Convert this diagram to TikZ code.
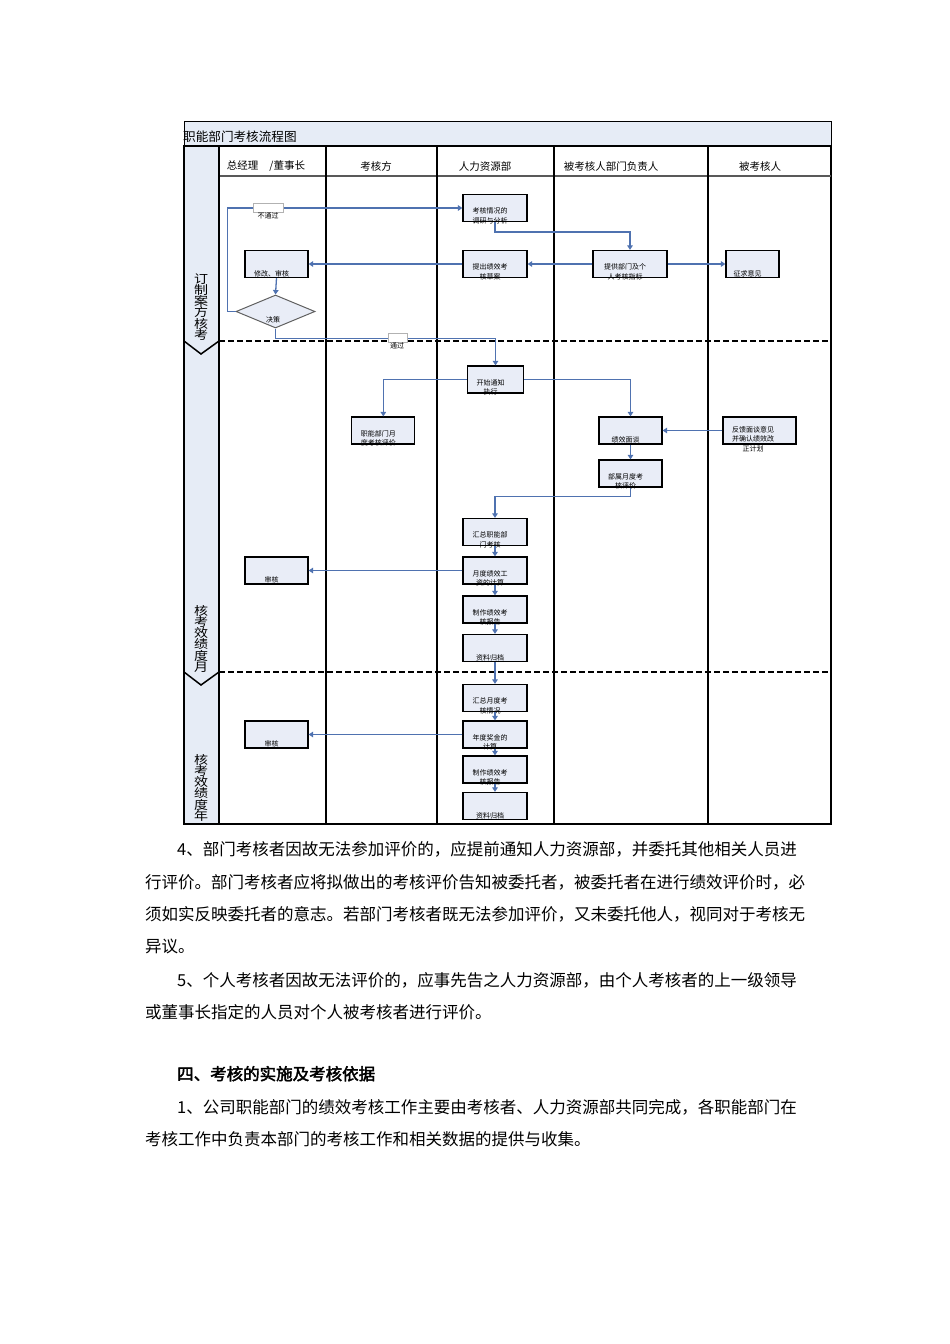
\documentclass[tikz,border=0pt]{standalone}
\usepackage{fontspec}
\setmainfont{Noto Sans CJK SC}[AutoFakeBold=2.5]
\usetikzlibrary{arrows.meta,shapes.geometric,calc}
\definecolor{boxfill}{RGB}{233,237,247}
\definecolor{flow}{RGB}{79,114,176}
\definecolor{lanefill}{RGB}{230,236,246}
\newcommand\flowbx[5]{%
  \node[stepbox,minimum width=#4] (#1) at (#2,#3) {};
  \node[boxtext] (#1t) at ([xshift=-5pt,yshift=-8pt]#1.center) {#5};}
\newcommand\phasestack[6]{\scalebox{1}[0.85]{\begin{tabular}{@{}c@{}}\smash{#1}\\\smash{#2}\\\smash{#3}\\\smash{#4}\\\smash{#5}\\\smash{#6}\end{tabular}}}
\begin{document}
\begin{tikzpicture}[x=1pt,y=-1pt,
  stepbox/.style={draw=black,line width=1.2pt,fill=boxfill,inner sep=0pt,minimum width=64pt,minimum height=27pt},
  boxtext/.style={font=\fontsize{7}{9.5}\selectfont,align=center,inner sep=0pt},
  flowline/.style={draw=flow,line width=1.3pt,-{Triangle[width=5.5pt,length=4.5pt]}},
  lane/.style={draw=black,line width=1.1pt},
  phasesep/.style={draw=black,line width=1.8pt,dash pattern=on 6pt off 3pt},
  chev/.style={draw=black,line width=1.5pt},
  hdr/.style={font=\fontsize{10.5}{12}\selectfont,inner sep=0pt},
  passlbl/.style={draw=gray!60,fill=white,line width=0.6pt,inner sep=0pt,minimum height=9pt},
  lbltext/.style={font=\fontsize{7}{8}\selectfont,inner sep=0pt},
  phaselbl/.style={inner sep=0pt,font=\fontsize{14}{13.3}\selectfont},
  bodytext/.style={anchor=base west,inner sep=0pt,font=\fontsize{16.5}{20}\selectfont}
]
\useasboundingbox (0,0) rectangle (950,1344);

% ---------- frame ----------
\fill[lanefill] (184,121) rectangle (831,146);
\fill[lanefill] (184,146) rectangle (219,824);
\draw[line width=1pt] (184,121) rectangle (831,146);
\draw[line width=1.8pt] (184,146) -- (831,146);
\draw[line width=1.2pt] (184,146) rectangle (831,824);
\draw[draw=gray!70!black,line width=1.2pt] (219,176) -- (831,176);
\foreach \lx in {219,326,437,554,708} \draw[lane] (\lx,146) -- (\lx,824);
\draw[phasesep] (219,341) -- (831,341);
\draw[phasesep] (219,672) -- (831,672);
\draw[chev] (184,341) -- (201,354) -- (219,341);
\draw[chev] (184,672) -- (201,685) -- (219,672);

% ---------- titles ----------
\node[hdr,anchor=west,font=\fontsize{12.6}{14}\selectfont] (title) at (183,136.5) {职能部门考核流程图};
\node[hdr] (h1) at (266,166.5) {总经理\hspace{11pt}/董事长};
\node[hdr] (h2) at (376,166.5) {考核方};
\node[hdr] (h3) at (485,166.5) {人力资源部};
\node[hdr] (h4) at (611,166.5) {被考核人部门负责人};
\node[hdr] (h5) at (760,166.5) {被考核人};

\node[phaselbl] (p1) at (201,309) {\phasestack{订}{制}{案}{方}{核}{考}};
\node[phaselbl] (p2) at (201,641) {\phasestack{核}{考}{效}{绩}{度}{月}};
\node[phaselbl] (p3) at (201,790) {\phasestack{核}{考}{效}{绩}{度}{年}};

% ---------- phase 1 ----------
\flowbx{A}{495}{208}{64pt}{考核情况的\\调研与分析}
\flowbx{B}{495}{264}{64pt}{提出绩效考\\核草案}
\flowbx{C}{630}{264}{74pt}{提供部门及个\\人考核指标}
\flowbx{D}{752.5}{264}{53pt}{\\征求意见}
\flowbx{E}{276.5}{264}{63pt}{\\修改、审核}
\node[diamond,draw=gray!75!black,fill=boxfill,line width=1pt,inner sep=0pt,minimum width=79pt,minimum height=33pt] (F) at (275.5,311.5) {};
\node[boxtext] (Ft) at (273,320) {决策};

% ---------- phase 2 ----------
\flowbx{G}{495.5}{379.5}{56pt}{开始通知\\执行}
\flowbx{H}{383.3}{430.5}{63pt}{职能部门月\\度考核评价}
\flowbx{I}{630.5}{430.5}{63pt}{\\绩效面谈}
\node[stepbox,minimum width=73pt] (J) at (759.5,430.5) {};
\node[boxtext] (Jt) at (753,439) {反馈面谈意见\\并确认绩效改\\正计划};
\flowbx{K}{630.5}{473.5}{63pt}{部属月度考\\核评价}
\flowbx{L}{495}{532}{64pt}{汇总职能部\\门考核}
\flowbx{M}{495}{570.5}{64pt}{月度绩效工\\资的计算}
\flowbx{N}{495}{609.5}{64pt}{制作绩效考\\核报告}
\flowbx{O}{495}{648}{64pt}{\\资料归档}
\flowbx{P}{276.5}{570.5}{63pt}{\\审核}

% ---------- phase 3 ----------
\flowbx{Q}{495}{698}{64pt}{汇总月度考\\核情况}
\flowbx{R}{495}{734.5}{64pt}{年度奖金的\\计算}
\flowbx{S}{495}{769.5}{64pt}{制作绩效考\\核报告}
\flowbx{T}{495}{806}{64pt}{\\资料归档}
\flowbx{U}{276.5}{734.5}{63pt}{\\审核}

% ---------- connectors ----------
\draw[flowline] (F.west) -- ++(-8,0) |- (A.west);
\draw[flowline] (A.south) -- ++(0,10) -| (C.north);
\draw[flowline] (C.west) -- (B.east);
\draw[flowline] (C.east) -- (D.west);
\draw[flowline] (B.west) -- (E.east);
\draw[flowline] (E.south) -- (F.north);
\draw[flowline] (F.south) -- ++(0,10) -| (G.north);
\draw[flowline] (G.west) -| (H.north);
\draw[flowline] (G.east) -| (I.north);
\draw[flowline] (J.west) -- (I.east);
\draw[flowline] (I.south) -- (K.north);
\draw[flowline] (K.south) -- ++(0,9) -| (L.north);
\draw[flowline] (L.south) -- (M.north);
\draw[flowline] (M.south) -- (N.north);
\draw[flowline] (N.south) -- (O.north);
\draw[flowline] (M.west) -- (P.east);
\draw[flowline] (O.south) -- (Q.north);
\draw[flowline] (Q.south) -- (R.north);
\draw[flowline] (R.south) -- (S.north);
\draw[flowline] (S.south) -- (T.north);
\draw[flowline] (R.west) -- (U.east);

% ---------- connector labels ----------
\node[passlbl,minimum width=30pt] (nb) at (268,207.5) {};
\node[lbltext] (nbt) at (268,216) {不通过};
\node[passlbl,minimum width=19pt] (pb) at (398,337.5) {};
\node[lbltext] (pbt) at (397,346) {通过};

% ---------- body text ----------
\node[bodytext] (t1) at (177,855) {4、部门考核者因故无法参加评价的，应提前通知人力资源部，并委托其他相关人员进};
\node[bodytext] (t2) at (145,888) {行评价。部门考核者应将拟做出的考核评价告知被委托者，被委托者在进行绩效评价时，必};
\node[bodytext] (t3) at (145,920) {须如实反映委托者的意志。若部门考核者既无法参加评价，又未委托他人，视同对于考核无};
\node[bodytext] (t4) at (145,952) {异议。};
\node[bodytext] (t5) at (177,986) {5、个人考核者因故无法评价的，应事先告之人力资源部，由个人考核者的上一级领导};
\node[bodytext] (t6) at (145,1018) {或董事长指定的人员对个人被考核者进行评价。};
\node[bodytext,font=\fontsize{16.5}{20}\selectfont\bfseries] (t7) at (177,1080) {四、考核的实施及考核依据};
\node[bodytext] (t8) at (177,1113) {1、公司职能部门的绩效考核工作主要由考核者、人力资源部共同完成，各职能部门在};
\node[bodytext] (t9) at (145,1145) {考核工作中负责本部门的考核工作和相关数据的提供与收集。};
\end{tikzpicture}
\end{document}
